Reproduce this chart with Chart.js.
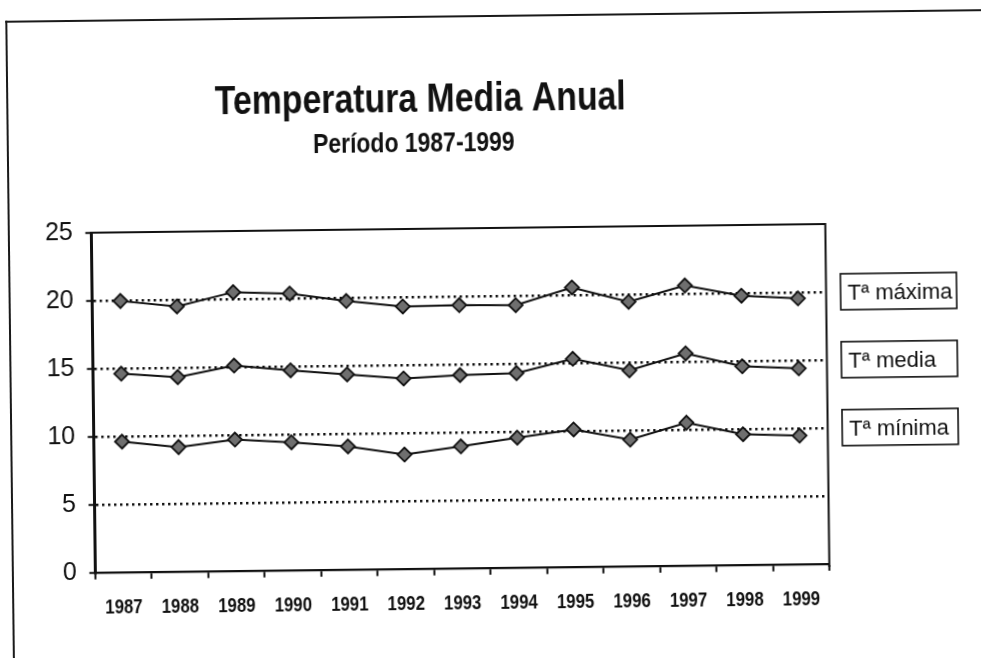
<!DOCTYPE html>
<html><head><meta charset="utf-8">
<script src="https://cdn.jsdelivr.net/npm/chart.js@4.4.1/dist/chart.umd.min.js"></script>
<style>
html,body{margin:0;padding:0;background:#fff;overflow:hidden;width:981px;height:658px}
#wrap{position:absolute;left:0;top:0;width:981px;height:658px;transform:rotate(-0.68deg);transform-origin:490.5px 329px}
#frame{position:absolute;left:9px;top:15px;width:1100px;height:800px;border-left:2px solid #1a1a1a;border-top:2px solid #1a1a1a}
canvas{position:absolute;left:0;top:0}
</style></head><body>
<div id="wrap"><div id="frame"></div><canvas id="c" width="981" height="658"></canvas></div>
<script>
const chartTitle = 'Temperatura Media Anual';
const chartSubtitle = 'Período 1987-1999';
const years = ['1987','1988','1989','1990','1991','1992','1993','1994','1995','1996','1997','1998','1999'];
const tMax   = [19.95, 19.5, 20.5, 20.35, 19.75, 19.3, 19.35, 19.3, 20.55, 19.45, 20.6, 19.8, 19.55];
const tMedia = [14.6, 14.3, 15.1, 14.7, 14.35, 14.0, 14.2, 14.3, 15.3, 14.4, 15.6, 14.6, 14.4];
const tMin   = [9.6, 9.15, 9.65, 9.4, 9.05, 8.4, 8.95, 9.55, 10.1, 9.3, 10.5, 9.6, 9.45];
const seriesNames = ['Tª máxima', 'Tª media', 'Tª mínima'];
const labelLevels = [20, 15, 10];
const yTicks = [0, 5, 10, 15, 20, 25];

const INK = '#111111';
const SANS = '"Liberation Sans", Arial, Helvetica, sans-serif';

function condensedText(ctx, text, x, y, font, sx, align) {
  ctx.save();
  ctx.translate(x, y);
  ctx.scale(sx, 1);
  ctx.font = font;
  ctx.textAlign = align || 'left';
  ctx.textBaseline = 'alphabetic';
  ctx.fillStyle = INK;
  ctx.fillText(text, 0, 0);
  ctx.restore();
}

const deco = {
  id: 'deco',
  beforeDatasetsDraw(chart) {
    const {ctx, chartArea: a} = chart;
    ctx.save();
    ctx.strokeStyle = INK;
    ctx.lineWidth = 2;
    ctx.beginPath();
    ctx.moveTo(a.left, a.top);
    ctx.lineTo(a.right, a.top);
    ctx.lineTo(a.right, a.bottom + 3);
    ctx.stroke();
    ctx.restore();
  },
  afterDraw(chart) {
    const {ctx, chartArea: a, scales} = chart;
    condensedText(ctx, chartTitle, 217.5, 110.7, 'bold 41px ' + SANS, 0.825);
    condensedText(ctx, chartSubtitle, 315.2, 150.9, 'bold 28px ' + SANS, 0.82);
    years.forEach((yr, i) => {
      const x = scales.x.getPixelForValue(i);
      condensedText(ctx, yr, x, a.bottom + 41, 'bold 21px ' + SANS, 0.8, 'center');
    });
    seriesNames.forEach((name, i) => {
      const y = scales.y.getPixelForValue(labelLevels[i]);
      ctx.save();
      ctx.strokeStyle = INK;
      ctx.lineWidth = 1.6;
      ctx.strokeRect(841, y - 18, 116, 36);
      ctx.font = '22px ' + SANS;
      ctx.fillStyle = INK;
      ctx.textAlign = 'left';
      ctx.textBaseline = 'alphabetic';
      ctx.fillText(name, 848, y + 8);
      ctx.restore();
    });
  }
};

function ds(label, data) {
  return {
    label, data,
    borderColor: INK, borderWidth: 2, tension: 0,
    pointStyle: 'rectRot', pointRadius: 7,
    pointBackgroundColor: '#6f6f6f', pointBorderColor: '#111111', pointBorderWidth: 1.8,
    clip: false
  };
}

new Chart(document.getElementById('c'), {
  type: 'line',
  data: {
    labels: years,
    datasets: [ds(seriesNames[0], tMax), ds(seriesNames[1], tMedia), ds(seriesNames[2], tMin)]
  },
  options: {
    responsive: false,
    animation: false,
    events: [],
    layout: {padding: {left: 0, right: 154.5, top: 228, bottom: 70.3}},
    plugins: {legend: {display: false}, title: {display: false}, tooltip: {enabled: false}},
    scales: {
      x: {
        type: 'category',
        offset: true,
        afterFit: s => { s.height = 20; },
        grid: {offset: true, drawOnChartArea: false, drawTicks: true, tickLength: 7, tickWidth: 2, tickColor: INK, color: INK},
        border: {display: true, color: INK, width: 2.2},
        ticks: {display: false}
      },
      y: {
        min: 0, max: 25,
        afterFit: s => { s.width = 92.5; },
        afterBuildTicks: s => { s.ticks = yTicks.map(v => ({value: v})); },
        grid: {
          color: c => (c.tick && c.tick.value > 0 && c.tick.value < 25) ? INK : 'rgba(0,0,0,0)',
          lineWidth: 2.4,
          drawTicks: true, tickLength: 6, tickWidth: 2, tickColor: INK, tickBorderDash: []
        },
        border: {display: true, color: INK, width: 3, dash: [2.4, 3.6]},
        ticks: {color: INK, padding: 12.5, font: {family: SANS, size: 25}}
      }
    }
  },
  plugins: [deco]
});
</script>
</body></html>
